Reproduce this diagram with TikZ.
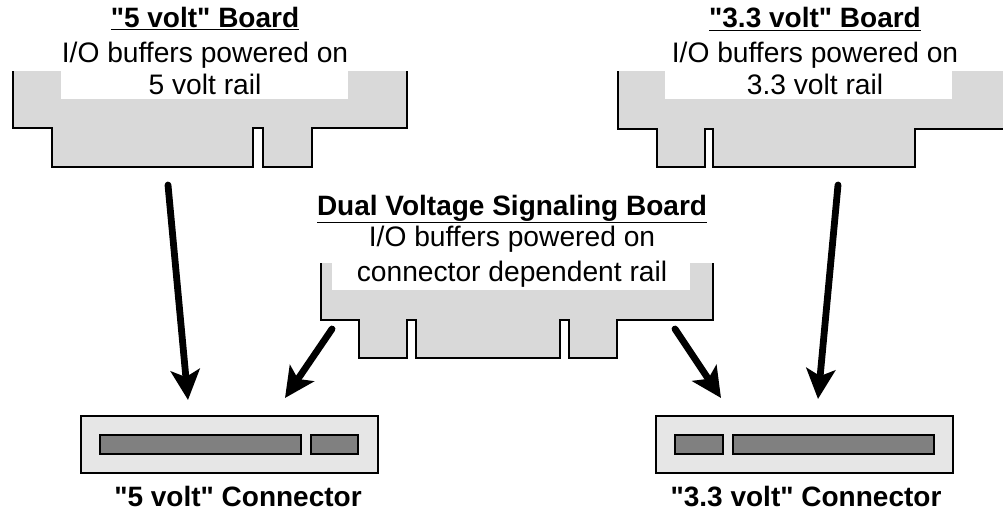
\documentclass[tikz,border=0pt]{standalone}
\usepackage{fontspec}
\setmainfont{Liberation Sans}
\usetikzlibrary{arrows.meta}
\definecolor{boardgray}{RGB}{217,217,217}
\definecolor{connlight}{RGB}{230,230,230}
\definecolor{slotgray}{RGB}{128,128,128}
\newcommand{\qq}{\textquotedbl}
\begin{document}
\begin{tikzpicture}[x=1pt,y=-1pt,
  outline/.style={draw=black,line width=1.6pt,line join=miter},
  boardfill/.style={fill=boardgray},
  txt/.style={anchor=base,inner sep=0pt,font=\fontsize{28.2}{33}\selectfont},
  ttl/.style={txt,font=\fontsize{28}{33}\selectfont\bfseries},
  connbox/.style={draw=black,line width=1.6pt,fill=connlight,inner sep=0pt},
  slotbox/.style={draw=black,line width=1.6pt,fill=slotgray,inner sep=0pt},
  bigarrow/.style={line width=6.8pt,line cap=round,-{Stealth[length=30pt,width=29pt,inset=7pt]}}
]
\useasboundingbox (0,0) rectangle (1003,511);

% ---------- "5 volt" board ----------
\fill[boardfill] (13,71) -- (13,128) -- (52,128) -- (52,167) -- (253,167) -- (253,128) -- (263,128) -- (263,167) -- (312,167) -- (312,128) -- (407,128) -- (407,71) -- cycle;
\fill[white] (61,71) rectangle (348,99);
\draw[outline] (13,71) -- (13,128) -- (52,128) -- (52,167) -- (253,167) -- (253,128) -- (263,128) -- (263,167) -- (312,167) -- (312,128) -- (407,128) -- (407,71);
\node[ttl] (t5) at (205,28) {\underline{\qq5 volt\qq{} Board}};
\node[txt] (t5a) at (205,63) {I/O buffers powered on};
\node[txt] (t5b) at (205,94) {5 volt rail};

% ---------- "3.3 volt" board ----------
\fill[boardfill] (618,71) -- (618,129) -- (657,129) -- (657,167) -- (705,167) -- (705,129) -- (713,129) -- (713,167) -- (915,167) -- (915,129) -- (1012,129) -- (1012,71) -- cycle;
\fill[white] (665,71) rectangle (952,99);
\draw[outline] (618,71) -- (618,129) -- (657,129) -- (657,167) -- (705,167) -- (705,129) -- (713,129) -- (713,167) -- (915,167) -- (915,129) -- (1012,129);
\node[ttl] (t3) at (815,28) {\underline{\qq3.3 volt\qq{} Board}};
\node[txt] (t3a) at (815,63) {I/O buffers powered on};
\node[txt] (t3b) at (815,94) {3.3 volt rail};

% ---------- Dual voltage board ----------
\fill[boardfill] (321,263) -- (321,320) -- (359,320) -- (359,358) -- (407,358) -- (407,320) -- (416,320) -- (416,358) -- (560,358) -- (560,320) -- (569,320) -- (569,358) -- (617,358) -- (617,320) -- (713,320) -- (713,263) -- cycle;
\fill[white] (332,263) rectangle (690,290);
\draw[outline] (321,263) -- (321,320) -- (359,320) -- (359,358) -- (407,358) -- (407,320) -- (416,320) -- (416,358) -- (560,358) -- (560,320) -- (569,320) -- (569,358) -- (617,358) -- (617,320) -- (713,320) -- (713,263);
\node[ttl] (td) at (512,215) {\underline{Dual Voltage Signaling Board}};
\node[txt] (tda) at (512,246) {I/O buffers powered on};
\node[txt] (tdb) at (512,281) {connector dependent rail};

% ---------- connectors ----------
\node[connbox,minimum width=297pt,minimum height=57pt] (c5) at (229.5,444.5) {};
\node[slotbox,minimum width=201pt,minimum height=19pt] (c5s1) at (200.5,444.5) {};
\node[slotbox,minimum width=47pt,minimum height=19pt] (c5s2) at (334.5,444.5) {};
\node[ttl] (l5) at (238,506) {\qq5 volt\qq{} Connector};

\node[connbox,minimum width=297pt,minimum height=57pt] (c3) at (804.5,444.5) {};
\node[slotbox,minimum width=48pt,minimum height=19pt] (c3s1) at (699,444.5) {};
\node[slotbox,minimum width=201pt,minimum height=19pt] (c3s2) at (833.5,444.5) {};
\node[ttl] (l3) at (806,506) {\qq3.3 volt\qq{} Connector};

% ---------- arrows ----------
\coordinate (a1s) at (168,185);
\coordinate (a1e) at (188,400);
\coordinate (a2s) at (332,329);
\coordinate (a2e) at (285,398);
\coordinate (a3s) at (675,329);
\coordinate (a3e) at (721,398);
\coordinate (a4s) at (838,185);
\coordinate (a4e) at (818,399);
\draw[bigarrow] (a1s) -- (a1e);
\draw[bigarrow] (a2s) -- (a2e);
\draw[bigarrow] (a3s) -- (a3e);
\draw[bigarrow] (a4s) -- (a4e);
\end{tikzpicture}
\end{document}
